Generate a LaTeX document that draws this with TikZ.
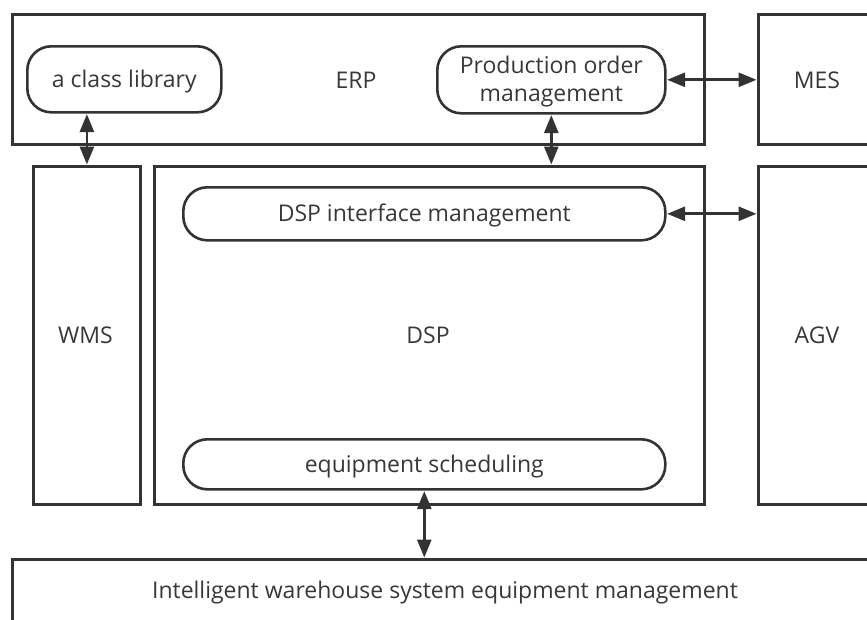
\documentclass[tikz,border=0pt]{standalone}
\usepackage{fontspec}
\setmainfont{Open Sans}
\usetikzlibrary{arrows.meta}
\definecolor{ln}{HTML}{333333}
\definecolor{tx}{HTML}{383838}
\newcommand{\lowr}[1]{\raisebox{-2pt}[\height][\depth]{#1}}
\tikzset{
  box/.style={draw=ln, line width=2.8pt, anchor=north west, inner sep=0pt, fill=white},
  pill/.style={draw=ln, line width=2.6pt, anchor=north west, inner sep=0pt, rounded corners=24pt, text=tx, align=center, font=\fontsize{23}{28}\selectfont},
  lbl/.style={text=tx, inner sep=0pt, font=\fontsize{23}{28}\selectfont},
  biarrow/.style={draw=ln, line width=2.8pt, {Triangle[length=18pt,width=14pt]}-{Triangle[length=18pt,width=14pt]}, shorten <=0.5pt, shorten >=0.5pt},
}
\begin{document}
\begin{tikzpicture}[x=1pt,y=-1pt]
\useasboundingbox (0,0) rectangle (867,619);
\clip (0,0) rectangle (867,619);
\fill[white] (0,0) rectangle (867,619);
% outer boxes
\node[box, minimum width=692pt, minimum height=130pt] (erp) at (11,13) {};
\node[box, minimum width=120pt, minimum height=130pt] (mes) at (757,13) {};
\node[box, minimum width=107pt, minimum height=338pt] (wms) at (32,165) {};
\node[box, minimum width=550pt, minimum height=338pt] (dsp) at (153,165) {};
\node[box, minimum width=120pt, minimum height=338pt] (agv) at (757,165) {};
\node[box, minimum width=868pt, minimum height=68pt] (iw) at (11,558) {};
% texts of boxes
\node[lbl] (erpt) at (356,80) {ERP};
\node[lbl] (mest) at (817,80) {MES};
\node[lbl] (wmst) at (85.5,335) {WMS};
\node[lbl] (dspt) at (428,335) {DSP};
\node[lbl] (agvt) at (817,335) {AGV};
\node[lbl] (iwt) at (445,593) {Intelligent warehouse system equipment management};
% pills
\node[pill, minimum width=194pt, minimum height=66pt] (cls) at (26,45) {\lowr{a class library}};
\node[pill, minimum width=228pt, minimum height=67pt] (prod) at (436,45) {\lowr{Production order}\\\lowr{management}};
\node[pill, minimum width=482pt, minimum height=53pt] (dif) at (182,186) {\lowr{DSP interface management}};
\node[pill, minimum width=482pt, minimum height=50pt] (es) at (182,438) {\lowr{equipment scheduling}};
% connectors
\draw[biarrow] (cls.south -| wms.north) -- (wms.north);
\draw[biarrow] (prod.south) -- (prod.south |- dsp.north);
\draw[biarrow] (prod.east) -- (prod.east -| mes.west);
\draw[biarrow] (dif.east) -- (dif.east -| agv.west);
\draw[biarrow] (es.south) -- (es.south |- iw.north);
\end{tikzpicture}
\end{document}
